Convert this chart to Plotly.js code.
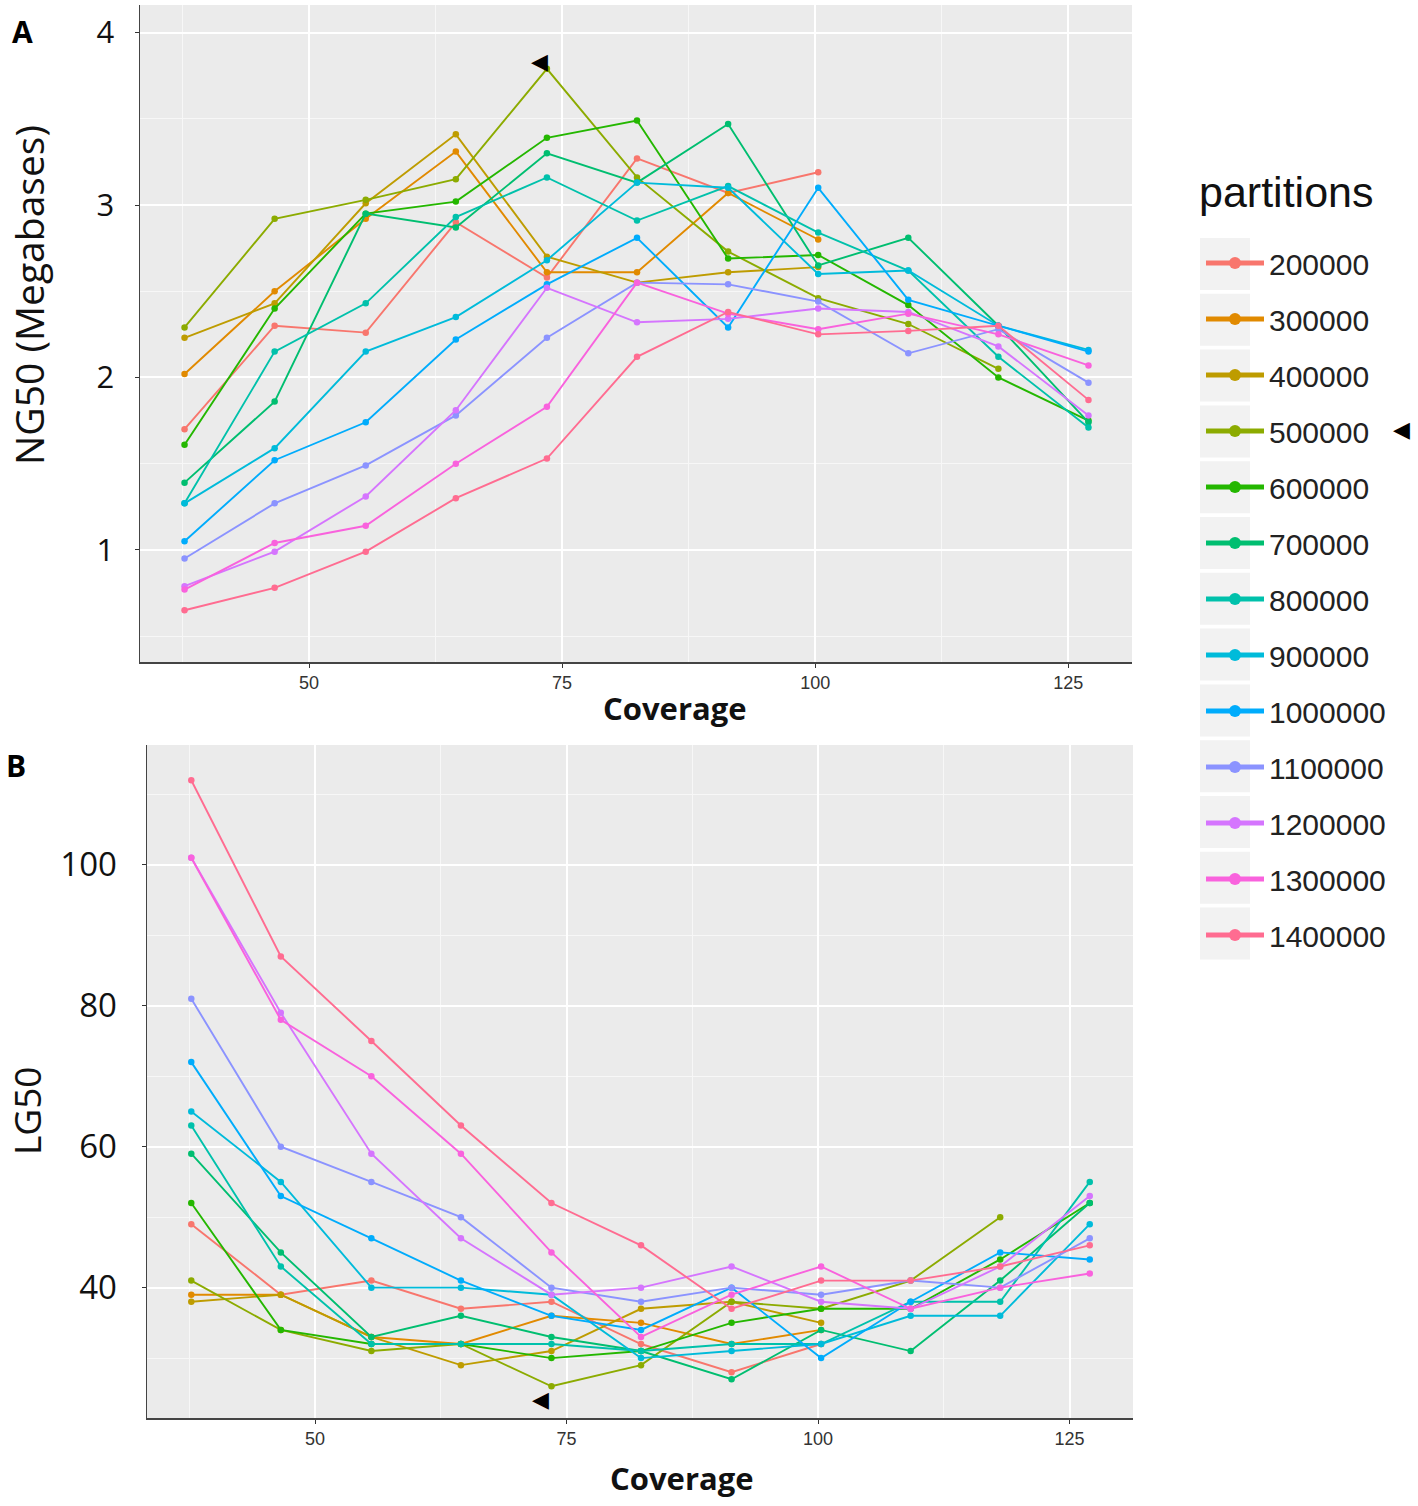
<!DOCTYPE html>
<html>
<head>
<meta charset="utf-8">
<script src="https://cdn.plot.ly/plotly-3.0.1.min.js"></script>
<style>html,body{margin:0;padding:0;background:#fff;}#chart{width:1418px;height:1506px;}</style>
</head>
<body>
<div id="chart"></div>
<script>
// ---- data ----
const coverage = [37.7, 46.6, 55.6, 64.5, 73.5, 82.4, 91.4, 100.3, 109.2, 118.1, 127.0];
const partitions = ['200000','300000','400000','500000','600000','700000','800000','900000','1000000','1100000','1200000','1300000','1400000'];

// NG50 (Megabases), panel A
const ng50_200000  = [1.70, 2.30, 2.26, 2.90, 2.58, 3.27, 3.07, 3.19];
const ng50_300000  = [2.02, 2.50, 2.92, 3.31, 2.61, 2.61, 3.07, 2.80];
const ng50_400000  = [2.23, 2.43, 3.01, 3.41, 2.70, 2.55, 2.61, 2.64];
const ng50_500000  = [2.29, 2.92, 3.03, 3.15, 3.79, 3.16, 2.73, 2.46, 2.31, 2.05];
const ng50_600000  = [1.61, 2.40, 2.95, 3.02, 3.39, 3.49, 2.69, 2.71, 2.42, 2.00, 1.75];
const ng50_700000  = [1.39, 1.86, 2.95, 2.87, 3.30, 3.13, 3.47, 2.65, 2.81, 2.30, 1.74];
const ng50_800000  = [1.27, 2.15, 2.43, 2.93, 3.16, 2.91, 3.11, 2.84, 2.62, 2.12, 1.71];
const ng50_900000  = [1.27, 1.59, 2.15, 2.35, 2.68, 3.13, 3.10, 2.60, 2.62, 2.30, 2.16];
const ng50_1000000 = [1.05, 1.52, 1.74, 2.22, 2.54, 2.81, 2.29, 3.10, 2.45, 2.30, 2.15];
const ng50_1100000 = [0.95, 1.27, 1.49, 1.78, 2.23, 2.55, 2.54, 2.44, 2.14, 2.28, 1.97];
const ng50_1200000 = [0.79, 0.99, 1.31, 1.81, 2.52, 2.32, 2.34, 2.40, 2.38, 2.18, 1.78];
const ng50_1300000 = [0.77, 1.04, 1.14, 1.50, 1.83, 2.55, 2.37, 2.28, 2.37, 2.25, 2.07];
const ng50_1400000 = [0.65, 0.78, 0.99, 1.30, 1.53, 2.12, 2.38, 2.25, 2.27, 2.30, 1.87];

// LG50, panel B
const lg50_200000  = [49, 39, 41, 37, 38, 32, 28, 32];
const lg50_300000  = [39, 39, 33, 32, 36, 35, 32, 34];
const lg50_400000  = [38, 39, 33, 29, 31, 37, 38, 35];
const lg50_500000  = [41, 34, 31, 32, 26, 29, 38, 37, 41, 50];
const lg50_600000  = [52, 34, 32, 32, 30, 31, 35, 37, 37, 44, 52];
const lg50_700000  = [59, 45, 33, 36, 33, 31, 27, 34, 31, 41, 52];
const lg50_800000  = [63, 43, 32, 32, 32, 31, 32, 32, 38, 38, 55];
const lg50_900000  = [65, 55, 40, 40, 39, 30, 31, 32, 36, 36, 49];
const lg50_1000000 = [72, 53, 47, 41, 36, 34, 40, 30, 38, 45, 44];
const lg50_1100000 = [81, 60, 55, 50, 40, 38, 40, 39, 41, 40, 47];
const lg50_1200000 = [101, 79, 59, 47, 39, 40, 43, 38, 37, 43, 53];
const lg50_1300000 = [101, 78, 70, 59, 45, 33, 39, 43, 37, 40, 42];
const lg50_1400000 = [112, 87, 75, 63, 52, 46, 37, 41, 41, 43, 46];

const ng50Series = [ng50_200000, ng50_300000, ng50_400000, ng50_500000, ng50_600000, ng50_700000, ng50_800000, ng50_900000, ng50_1000000, ng50_1100000, ng50_1200000, ng50_1300000, ng50_1400000];
const lg50Series = [lg50_200000, lg50_300000, lg50_400000, lg50_500000, lg50_600000, lg50_700000, lg50_800000, lg50_900000, lg50_1000000, lg50_1100000, lg50_1200000, lg50_1300000, lg50_1400000];

const xTickVals = [50, 75, 100, 125];

// ---- style ----
const colors = ['#F8766D','#E18A00','#BE9C00','#8CAB00','#24B700','#00BE70','#00C1AB','#00BBDA','#00ACFC','#8B93FF','#D575FE','#F962DD','#FF6C91'];

const traces = [];
partitions.forEach((p, i) => {
  const ys = ng50Series[i];
  traces.push({
    type: 'scatter', mode: 'lines+markers', name: p,
    x: coverage.slice(0, ys.length), y: ys,
    xaxis: 'x', yaxis: 'y',
    line: {color: colors[i], width: 1.9},
    marker: {color: colors[i], size: 6.5},
    legendgroup: 'g' + i, showlegend: true
  });
});
partitions.forEach((p, i) => {
  const ys = lg50Series[i];
  traces.push({
    type: 'scatter', mode: 'lines+markers', name: p,
    x: coverage.slice(0, ys.length), y: ys,
    xaxis: 'x2', yaxis: 'y2',
    line: {color: colors[i], width: 1.9},
    marker: {color: colors[i], size: 6.5},
    legendgroup: 'g' + i, showlegend: false
  });
});

const W = 1418, H = 1506;
const px = v => v / W;
const py = v => (H - v) / H;

const gridStyle = {gridcolor: '#FFFFFF', gridwidth: 2};
const minorX = {dtick: 12.5, tick0: 37.5, showgrid: true, gridcolor: '#F7F7F7', gridwidth: 1, ticks: ''};
const titleFont = {family: 'Open Sans, sans-serif', color: '#111'};

// legend key background boxes (one per legend entry)
const keyShapes = partitions.map((p, i) => ({
  type: 'rect', xref: 'paper', yref: 'paper', layer: 'below',
  x0: px(1200), x1: px(1250), y0: py(264 + 55.8 * i + 26), y1: py(264 + 55.8 * i - 26),
  fillcolor: '#F2F2F2', line: {width: 0}
}));

const layout = {
  width: W, height: H,
  margin: {l: 0, r: 0, t: 0, b: 0},
  paper_bgcolor: '#FFFFFF',
  plot_bgcolor: '#EBEBEB',
  font: {family: 'Liberation Sans, Arial, sans-serif', color: '#000'},
  showlegend: true,
  legend: {
    x: px(1201), xanchor: 'left', y: py(237), yanchor: 'top',
    font: {size: 30, color: '#222'},
    tracegroupgap: 14, itemwidth: 58, itemsizing: 'constant', bgcolor: 'rgba(0,0,0,0)'
  },
  shapes: keyShapes,
  xaxis: {
    domain: [px(140), px(1132)], anchor: 'y', range: [33.3, 131.3],
    tickvals: xTickVals, ticks: 'outside', ticklen: 4, tickcolor: '#333',
    tickfont: {size: 18, color: '#333'},
    showline: true, linecolor: '#444', linewidth: 1.5,
    showgrid: true, ...gridStyle, zeroline: false,
    minor: minorX
  },
  yaxis: {
    domain: [py(662), py(5)], anchor: 'x', range: [0.35, 4.16],
    dtick: 1, tick0: 0, ticks: 'outside', ticklen: 4, tickcolor: '#333',
    tickfont: {size: 31, family: 'Open Sans, sans-serif', color: '#111'},
    ticklabelstandoff: 14,
    showline: true, linecolor: '#444', linewidth: 1.5,
    showgrid: true, ...gridStyle, zeroline: false,
    minor: {dtick: 0.5, showgrid: true, gridcolor: '#F7F7F7', gridwidth: 1, ticks: ''}
  },
  xaxis2: {
    domain: [px(147), px(1133)], anchor: 'y2', range: [33.3, 131.3],
    tickvals: xTickVals, ticks: 'outside', ticklen: 4, tickcolor: '#333',
    tickfont: {size: 18, color: '#333'},
    showline: true, linecolor: '#444', linewidth: 1.5,
    showgrid: true, ...gridStyle, zeroline: false,
    minor: minorX
  },
  yaxis2: {
    domain: [py(1418), py(745)], anchor: 'x2', range: [21.5, 117],
    dtick: 20, tick0: 0, ticks: 'outside', ticklen: 4, tickcolor: '#333',
    tickfont: {size: 33, family: 'Open Sans, sans-serif', color: '#111'},
    ticklabelstandoff: 18,
    showline: true, linecolor: '#444', linewidth: 1.5,
    showgrid: true, ...gridStyle, zeroline: false,
    minor: {dtick: 10, showgrid: true, gridcolor: '#F7F7F7', gridwidth: 1, ticks: ''}
  },
  annotations: [
    {xref: 'paper', yref: 'paper', x: px(22), y: py(32), text: '<b>A</b>', showarrow: false,
     font: {size: 30, ...titleFont, color: '#000'}, xanchor: 'center', yanchor: 'middle'},
    {xref: 'paper', yref: 'paper', x: px(16), y: py(765), text: '<b>B</b>', showarrow: false,
     font: {size: 30, ...titleFont, color: '#000'}, xanchor: 'center', yanchor: 'middle'},
    // axis titles
    {xref: 'paper', yref: 'paper', x: px(28), y: py(295), text: 'NG50 (Megabases)', textangle: -90, showarrow: false,
     font: {size: 39, ...titleFont}, xanchor: 'center', yanchor: 'middle'},
    {xref: 'paper', yref: 'paper', x: px(26), y: py(1111), text: 'LG50', textangle: -90, showarrow: false,
     font: {size: 37, ...titleFont}, xanchor: 'center', yanchor: 'middle'},
    {xref: 'paper', yref: 'paper', x: px(675), y: py(708), text: '<b>Coverage</b>', showarrow: false,
     font: {size: 31, ...titleFont}, xanchor: 'center', yanchor: 'middle'},
    {xref: 'paper', yref: 'paper', x: px(682), y: py(1478), text: '<b>Coverage</b>', showarrow: false,
     font: {size: 31, ...titleFont}, xanchor: 'center', yanchor: 'middle'},
    // legend title
    {xref: 'paper', yref: 'paper', x: px(1197), y: py(192), text: 'partitions', showarrow: false,
     font: {size: 43, family: 'Liberation Sans, Arial, sans-serif', color: '#111'}, xanchor: 'left', yanchor: 'middle'},
    // markers (arrows)
    {xref: 'x', yref: 'y', x: 72.8, y: 3.83, text: '◀', showarrow: false,
     font: {size: 22, color: '#000'}, xanchor: 'center', yanchor: 'middle'},
    {xref: 'x2', yref: 'y2', x: 72.4, y: 24.1, text: '◀', showarrow: false,
     font: {size: 22, color: '#000'}, xanchor: 'center', yanchor: 'middle'},
    {xref: 'paper', yref: 'paper', x: px(1401), y: py(430), text: '◀', showarrow: false,
     font: {size: 22, color: '#000'}, xanchor: 'center', yanchor: 'middle'}
  ]
};

Plotly.newPlot('chart', traces, layout, {displayModeBar: false, staticPlot: true});
</script>
</body>
</html>
